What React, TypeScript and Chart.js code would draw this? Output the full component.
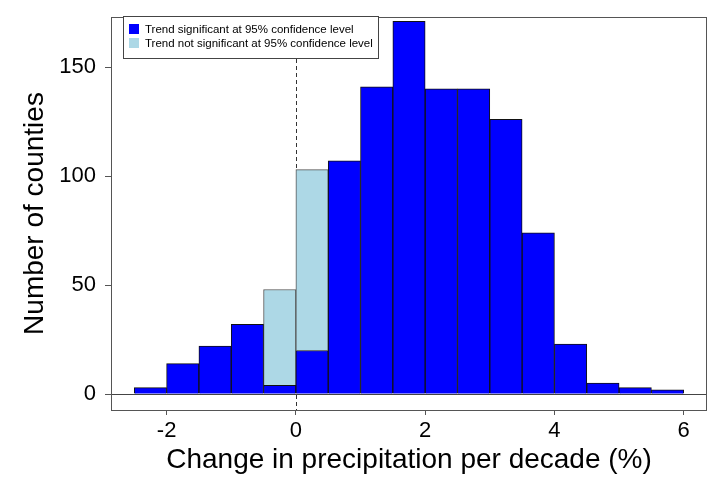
import React, { useEffect, useRef } from "react";
import { Chart, registerables } from "chart.js";

Chart.register(...registerables);

// Bin centers (bin width 0.5, from -2.5 to 6)
const binCenters = [-2.25, -1.75, -1.25, -0.75, -0.25, 0.25, 0.75, 1.25, 1.75, 2.25, 2.75, 3.25, 3.75, 4.25, 4.75, 5.25, 5.75];
// Counties with significant trend
const significant = [3, 14, 22, 32, 4, 20, 107, 141, 171, 140, 140, 126, 74, 23, 5, 3, 2];
// Counties with non-significant trend (stacked on top)
const notSignificantCenters = [-0.25, 0.25];
const notSignificant = [44, 83];

const xTicks = [-2, 0, 2, 4, 6];
const yTicks = [0, 50, 100, 150];

const legendLabels = ["Trend significant at 95% confidence level", "Trend not significant at 95% confidence level"];
const xTitle = "Change in precipitation per decade (%)";
const yTitle = "Number of counties";

const BLUE = "#0000ff";
const LIGHT = "#add8e6";
const FONT = "'Liberation Sans', Arial, sans-serif";

const decorPlugin = {
  id: "decor",
  beforeDatasetsDraw(chart: any) {
    const { ctx, chartArea, scales } = chart;
    const x0 = scales.x.getPixelForValue(0);
    ctx.save();
    ctx.strokeStyle = "#333";
    ctx.lineWidth = 1;
    ctx.setLineDash([4, 3]);
    ctx.beginPath();
    ctx.moveTo(Math.round(x0) + 0.5, chartArea.top);
    ctx.lineTo(Math.round(x0) + 0.5, chartArea.bottom);
    ctx.stroke();
    ctx.restore();
  },
  afterDatasetsDraw(chart: any) {
    const { ctx, chartArea, scales } = chart;
    const y0 = scales.y.getPixelForValue(0);
    ctx.save();
    // zero line
    ctx.strokeStyle = "#444";
    ctx.lineWidth = 1;
    ctx.beginPath();
    ctx.moveTo(chartArea.left, Math.round(y0) + 0.5);
    ctx.lineTo(chartArea.right, Math.round(y0) + 0.5);
    ctx.stroke();
    // box
    ctx.strokeStyle = "#555";
    ctx.strokeRect(Math.round(chartArea.left) + 0.5, Math.round(chartArea.top) + 0.5, Math.round(chartArea.right - chartArea.left) - 1, Math.round(chartArea.bottom - chartArea.top));
    // legend
    const lx = chartArea.left + 12;
    const ly = chartArea.top - 1;
    const lw = 255;
    const lh = 42;
    ctx.fillStyle = "#fff";
    ctx.fillRect(lx, ly, lw, lh);
    ctx.strokeStyle = "#444";
    ctx.strokeRect(lx + 0.5, ly + 0.5, lw, lh);
    const colors = [BLUE, LIGHT];
    ctx.font = `11.5px ${FONT}`;
    ctx.textBaseline = "middle";
    legendLabels.forEach((lab, i) => {
      const cy = ly + 13 + i * 14;
      ctx.fillStyle = colors[i];
      ctx.fillRect(lx + 6, cy - 5, 10, 10);
      ctx.fillStyle = "#000";
      ctx.fillText(lab, lx + 22, cy + 1);
    });
    ctx.restore();
  },
};

export default function App() {
  const ref = useRef<HTMLCanvasElement>(null);
  useEffect(() => {
    if (!ref.current) return;
    const chart = new Chart(ref.current, {
      type: "bar",
      data: {
        datasets: [
          {
            label: legendLabels[0],
            data: binCenters.map((x, i) => ({ x, y: significant[i] })),
            backgroundColor: BLUE,
            borderColor: "#111",
            borderWidth: 1,
            barPercentage: 1,
            categoryPercentage: 1,
          },
          {
            label: legendLabels[1],
            data: notSignificantCenters.map((x, i) => ({ x, y: notSignificant[i] })),
            backgroundColor: LIGHT,
            borderColor: "#555",
            borderWidth: 1,
            barPercentage: 1,
            categoryPercentage: 1,
          },
        ],
      },
      options: {
        animation: false,
        responsive: false,
        layout: { padding: { top: 17, right: 5, left: 0, bottom: 0 } },
        plugins: { legend: { display: false }, tooltip: { enabled: false } },
        scales: {
          x: {
            type: "linear",
            stacked: true,
            offset: false,
            min: -2.86,
            max: 6.36,
            afterBuildTicks: (s: any) => {
              s.ticks = xTicks.map((v) => ({ value: v }));
            },
            afterFit: (s: any) => {
              s.height = 67;
              s.paddingLeft = 0;
              s.paddingRight = 0;
            },
            grid: { display: true, offset: false, drawOnChartArea: false, drawTicks: true, tickLength: 5, color: "#555" },
            border: { display: false },
            ticks: { color: "#000", font: { family: FONT, size: 22 }, padding: 3, maxRotation: 0, autoSkip: false },
            title: { display: true, text: xTitle, color: "#000", font: { family: FONT, size: 28 }, padding: { top: 0, bottom: 0 } },
          },
          y: {
            type: "linear",
            stacked: true,
            min: -7.3,
            max: 173,
            afterBuildTicks: (s: any) => {
              s.ticks = yTicks.map((v) => ({ value: v }));
            },
            afterFit: (s: any) => {
              s.width = 111;
              s.paddingTop = 0;
              s.paddingBottom = 0;
            },
            grid: { display: true, drawOnChartArea: false, drawTicks: true, tickLength: 6, color: "#555" },
            border: { display: false },
            ticks: { color: "#000", font: { family: FONT, size: 22 }, padding: 9 },
            title: { display: true, text: yTitle, color: "#000", font: { family: FONT, size: 28 }, padding: { top: 18, bottom: 0 } },
          },
        },
      },
      plugins: [decorPlugin],
    } as any);
    return () => chart.destroy();
  }, []);
  return (
    <div style={{ position: "fixed", left: 0, top: 0, width: 712, height: 477, background: "#fff" }}>
      <canvas ref={ref} width={712} height={477} style={{ display: "block" }} />
    </div>
  );
}
